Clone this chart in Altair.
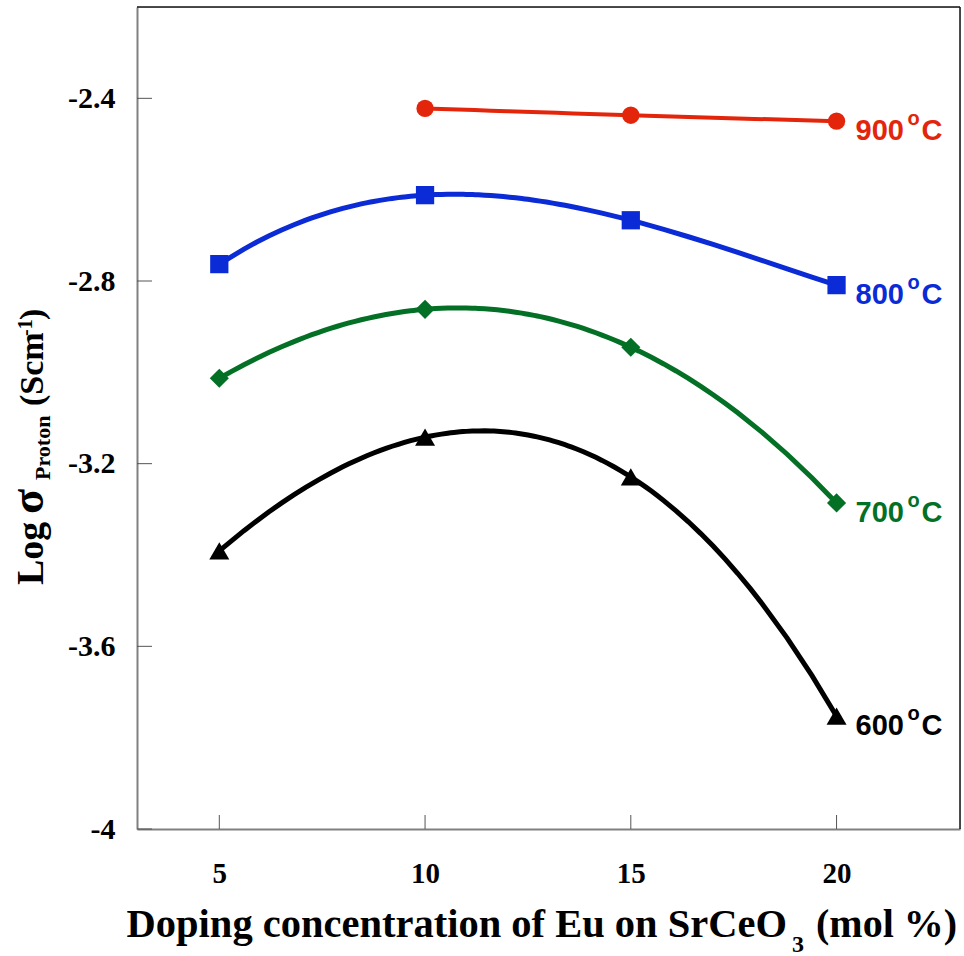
import altair as alt
import pandas as pd

# ---------------- data ----------------
conc = [5, 10, 15, 20]
series_names = ["900", "800", "700", "600"]
s900 = [None, -2.422, -2.437, -2.450]
s800 = [-2.763, -2.612, -2.667, -2.809]
s700 = [-3.013, -2.862, -2.945, -3.286]
s600 = [-3.391, -3.142, -3.229, -3.753]
y_ticks = [-4.0, -3.6, -3.2, -2.8, -2.4]
x_ticks = [5, 10, 15, 20]

colors = ["#E3260B", "#0A2BD6", "#037026", "#000000"]
shapes = ["circle", "square", "diamond", "triangle-up"]
sizes = [300, 400, 260, 250]

rows = []
for name, vals in zip(series_names, [s900, s800, s700, s600]):
    for c, v in zip(conc, vals):
        if v is not None:
            rows.append({"series": name, "conc": c, "logsigma": v})
df = pd.DataFrame(rows)
last = df[df["conc"] == 20].copy()

W, H = 823, 822
xs = alt.Scale(domain=[3, 23], nice=False, zero=False)
ys = alt.Scale(domain=[-4, -2.2], nice=False, zero=False)
col = alt.Scale(domain=series_names, range=colors)
shp = alt.Scale(domain=series_names, range=shapes)
siz = alt.Scale(domain=series_names, range=sizes)

SERIF = "Liberation Serif"
SANS = "Liberation Sans"

X_AXIS = alt.Axis(values=x_ticks, title=None)
Y_AXIS = alt.Axis(values=y_ticks, title=None,
                  labelExpr="datum.value == -4 ? '-4' : '-' + format(abs(datum.value), '.1f')")

def X(field):
    return alt.X(field, scale=xs)

def Y(field):
    return alt.Y(field, scale=ys)

base = alt.Chart(df)

# polynomial trend curves through the points (cubic for 4 points, quadratic for 3)
fit4 = base.transform_filter(alt.datum.series != "900").transform_regression(
    "conc", "logsigma", groupby=["series"], method="poly", order=3, extent=[5, 20]
).mark_line(strokeWidth=5).encode(
    x=alt.X("conc:Q", scale=xs, axis=X_AXIS),
    y=alt.Y("logsigma:Q", scale=ys, axis=Y_AXIS),
    color=alt.Color("series:N", scale=col, legend=None),
    detail="series:N",
)
fit3 = base.transform_filter(alt.datum.series == "900").transform_regression(
    "conc", "logsigma", groupby=["series"], method="poly", order=2, extent=[10, 20]
).mark_line(strokeWidth=4).encode(
    x=X("conc:Q"), y=Y("logsigma:Q"),
    color=alt.Color("series:N", scale=col, legend=None),
    detail="series:N",
)

points = base.mark_point(filled=True, opacity=1, strokeWidth=0).encode(
    x=X("conc:Q"), y=Y("logsigma:Q"),
    color=alt.Color("series:N", scale=col, legend=None),
    shape=alt.Shape("series:N", scale=shp, legend=None),
    size=alt.Size("series:N", scale=siz, legend=None),
)

lab = alt.Chart(last)
lab_num = lab.mark_text(font=SANS, fontWeight="bold", fontSize=29, align="left",
                        baseline="alphabetic", dx=19, dy=19).encode(
    x=X("conc:Q"), y=Y("logsigma:Q"),
    text="series:N", color=alt.Color("series:N", scale=col, legend=None))
lab_o = lab.mark_text(font=SANS, fontWeight="bold", fontSize=20, align="left",
                      baseline="alphabetic", dx=71, dy=4).encode(
    x=X("conc:Q"), y=Y("logsigma:Q"),
    text=alt.value("o"), color=alt.Color("series:N", scale=col, legend=None))
lab_c = lab.mark_text(font=SANS, fontWeight="bold", fontSize=29, align="left",
                      baseline="alphabetic", dx=85, dy=19).encode(
    x=X("conc:Q"), y=Y("logsigma:Q"),
    text=alt.value("C"), color=alt.Color("series:N", scale=col, legend=None))

# inward ticks
ytick_rules = alt.Chart(pd.DataFrame({"v": y_ticks})).mark_rule(color="#555", strokeWidth=1).encode(
    y=Y("v:Q"), x=alt.value(0), x2=alt.value(15))
xtick_rules = alt.Chart(pd.DataFrame({"v": x_ticks})).mark_rule(color="#555", strokeWidth=1).encode(
    x=X("v:Q"), y=alt.value(H), y2=alt.value(H - 14))

# top / right frame
one = pd.DataFrame({"a": [0]})
frame_top = alt.Chart(one).mark_rule(color="#111", strokeWidth=1.5).encode(
    x=alt.value(0), x2=alt.value(W), y=alt.value(0))
frame_right = alt.Chart(one).mark_rule(color="#111", strokeWidth=1.5).encode(
    x=alt.value(W), y=alt.value(0), y2=alt.value(H))

# titles
def txt(text, x, y, size, align="left", angle=0, baseline="alphabetic"):
    kw = dict(font=SERIF, fontWeight="bold", fontSize=size, align=align,
              baseline=baseline, color="black")
    if angle:
        kw["angle"] = angle
    return alt.Chart(one).mark_text(**kw).encode(
        x=alt.value(x), y=alt.value(y), text=alt.value(text))

xt1 = txt("Doping concentration of Eu on SrCeO", 650, 930, 40.5, align="right")
xt2 = txt("3", 661, 945, 24, align="center")
xt3 = txt("(mol %)", 679, 930, 40, align="left")

yt_log = txt("Log", -94, 578, 38, angle=270)
yt_sig = txt("σ", -94, 507, 46, angle=270)
yt_sub = txt("Proton", -87, 473, 22, angle=270)
yt_scm = txt("(Scm", -94, 399, 34, angle=270)
yt_sup = txt("-1", -105, 329, 20, angle=270)
yt_par = txt(")", -94, 313, 34, angle=270)

chart = alt.layer(
    fit4, fit3, points, ytick_rules, xtick_rules, frame_top, frame_right,
    lab_num, lab_o, lab_c,
    xt1, xt2, xt3, yt_log, yt_sig, yt_sub, yt_scm, yt_sup, yt_par,
).properties(
    width=W, height=H,
    autosize=alt.AutoSizeParams(type="none"),
    padding={"left": 137, "top": 7, "right": 4, "bottom": 127},
).configure_view(stroke=None).configure(background="white").configure_axis(
    grid=False, ticks=False, tickSize=0, domainColor="#808080", domainWidth=2,
    labelFont=SERIF, labelFontWeight="bold", labelColor="black", title=None,
).configure_axisX(
    labelFontSize=29, labelBaseline="alphabetic", labelPadding=53,
).configure_axisY(
    labelFontSize=30, labelPadding=22, labelBaseline="middle",
)

chart.save("out.html", embed_options={"renderer": "svg", "actions": False})
